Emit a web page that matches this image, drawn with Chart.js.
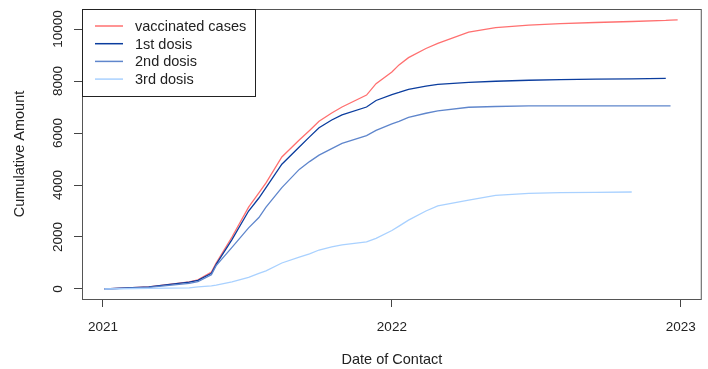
<!DOCTYPE html>
<html>
<head>
<meta charset="utf-8">
<title>Cumulative Amount</title>
<script src="https://cdn.jsdelivr.net/npm/chart.js@4.4.1/dist/chart.umd.min.js"></script>
<style>
    body { margin: 0; background: #fff; }
    #wrap { width: 708px; height: 369px; }
</style>
</head>
<body>
<div id="wrap"><canvas id="chart" width="708" height="369"></canvas></div>
<script>
// Data (cumulative counts per date of contact)
const dates = ['2021-01-03', '2021-02-28', '2021-04-20', '2021-05-01', '2021-05-18', '2021-05-24',
    '2021-06-13', '2021-07-04', '2021-07-17', '2021-07-26', '2021-08-15', '2021-09-06',
    '2021-09-19', '2021-10-01', '2021-10-17', '2021-10-30', '2021-11-30', '2021-12-12',
    '2022-01-01', '2022-01-10', '2022-01-22', '2022-02-13', '2022-02-28', '2022-04-08',
    '2022-05-12', '2022-06-23', '2022-08-02', '2022-09-15', '2022-10-31', '2022-12-13',
    '2022-12-19', '2022-12-28'];

const vaccinatedCases = [0, 80, 270, 350, 650, 1000, 2000, 3150, 3700, 4080, 5080, 5730,
    6100, 6450, 6770, 7000, 7460, 7900, 8350, 8620, 8900, 9250, 9450, 9880,
    10050, 10150, 10210, 10250, 10290, 10330, 10340, 10350];

const firstDose = [0, 80, 260, 330, 600, 950, 1900, 3000, 3500, 3900, 4800, 5460,
    5850, 6200, 6500, 6700, 7000, 7250, 7480, 7560, 7680, 7800, 7870, 7950,
    7990, 8030, 8050, 8070, 8085, 8100, null, null];

const secondDose = [0, 60, 220, 280, 550, 900, 1600, 2350, 2750, 3150, 3900, 4600,
    4900, 5150, 5400, 5600, 5900, 6100, 6350, 6450, 6600, 6760, 6850, 6990,
    7020, 7040, 7040, 7040, 7040, 7040, 7040, null];

const thirdDose = [0, 20, 40, 80, 120, 150, 270, 450, 600, 700, 1000, 1230,
    1350, 1500, 1620, 1700, 1810, 1950, 2250, 2420, 2650, 3000, 3200, 3420,
    3600, 3680, 3710, 3720, 3730, null, null, null];

const yearTicks = [2021, 2022, 2023];
const countTicks = [0, 2000, 4000, 6000, 8000, 10000];

const FONT = '"Liberation Sans", Arial, sans-serif';
const TEXT = '#222';

function toYear(s) {
    const y = parseInt(s.slice(0, 4), 10);
    const t = Date.parse(s + 'T00:00:00Z');
    return y + (t - Date.UTC(y, 0, 1)) / 86400000 / 365;
}

function points(values) {
    return dates.map((d, i) => ({ x: toYear(d), y: values[i] }));
}

function series(label, values, color, order) {
    return {
        label: label,
        data: points(values),
        borderColor: color,
        backgroundColor: color,
        borderWidth: 1.3,
        pointRadius: 0,
        tension: 0,
        spanGaps: false,
        order: order
    };
}

// Box, rotated y labels, axis titles and an R-style legend
const decorations = {
    id: 'decorations',
    afterDraw(chart) {
        const ctx = chart.ctx;
        const area = chart.chartArea;
        const yScale = chart.scales.y;

        ctx.save();
        ctx.strokeStyle = '#555';
        ctx.lineWidth = 1;
        ctx.strokeRect(area.left + 0.5, area.top + 0.5, area.right - area.left - 1, area.bottom - area.top);

        ctx.fillStyle = TEXT;
        ctx.font = '13.5px ' + FONT;
        ctx.textAlign = 'center';
        ctx.textBaseline = 'middle';
        yScale.ticks.forEach(t => {
            const py = yScale.getPixelForValue(t.value);
            ctx.save();
            ctx.translate(58, py);
            ctx.rotate(-Math.PI / 2);
            ctx.fillText(String(t.value), 0, 0);
            ctx.restore();
        });

        ctx.font = '14.5px ' + FONT;
        ctx.save();
        ctx.translate(20, (area.top + area.bottom) / 2);
        ctx.rotate(-Math.PI / 2);
        ctx.fillText('Cumulative Amount', 0, 0);
        ctx.restore();
        ctx.fillText('Date of Contact', (area.left + area.right) / 2, 360);

        // legend
        const lx = area.left, ly = area.top;
        ctx.fillStyle = '#fff';
        ctx.fillRect(lx + 0.5, ly + 0.5, 173, 87);
        ctx.strokeStyle = '#222';
        ctx.strokeRect(lx + 0.5, ly + 0.5, 173, 87);
        ctx.textAlign = 'left';
        chart.data.datasets.forEach((ds, i) => {
            const rowY = ly + 17 + i * 17.7;
            ctx.strokeStyle = ds.borderColor;
            ctx.lineWidth = 1.5;
            ctx.beginPath();
            ctx.moveTo(lx + 13, rowY);
            ctx.lineTo(lx + 41, rowY);
            ctx.stroke();
            ctx.fillStyle = TEXT;
            ctx.fillText(ds.label, lx + 53, rowY + 1);
        });
        ctx.restore();
    }
};

const ctx = document.getElementById('chart').getContext('2d');
const chart = new Chart(ctx, {
    type: 'line',
    data: {
        datasets: [
            series('vaccinated cases', vaccinatedCases, '#ff7070', 4),
            series('1st dosis', firstDose, '#0b3d9e', 3),
            series('2nd dosis', secondDose, '#5f86cc', 2),
            series('3rd dosis', thirdDose, '#a9d1ff', 1)
        ]
    },
    options: {
        responsive: false,
        animation: false,
        layout: { padding: { top: 9, right: 5, left: 0, bottom: 0 } },
        plugins: {
            legend: { display: false },
            tooltip: { enabled: false }
        },
        scales: {
            x: {
                type: 'linear',
                min: 2021 - 0.0725,
                max: 2023 + 0.0725,
                afterBuildTicks: scale => { scale.ticks = yearTicks.map(v => ({ value: v })); },
                afterFit: scale => { scale.height = 70; },
                ticks: {
                    autoSkip: false,
                    maxRotation: 0,
                    padding: 12,
                    color: TEXT,
                    font: { size: 13.5, family: FONT },
                    callback: v => String(v)
                },
                grid: { drawOnChartArea: false, drawTicks: true, tickLength: 8, color: '#444' },
                border: { display: false }
            },
            y: {
                type: 'linear',
                min: -385,
                max: 10770,
                afterBuildTicks: scale => { scale.ticks = countTicks.map(v => ({ value: v })); },
                afterFit: scale => { scale.width = 82; },
                ticks: { display: false },
                grid: { drawOnChartArea: false, drawTicks: true, tickLength: 8, color: '#444' },
                border: { display: false }
            }
        }
    },
    plugins: [decorations]
});
</script>
</body>
</html>
